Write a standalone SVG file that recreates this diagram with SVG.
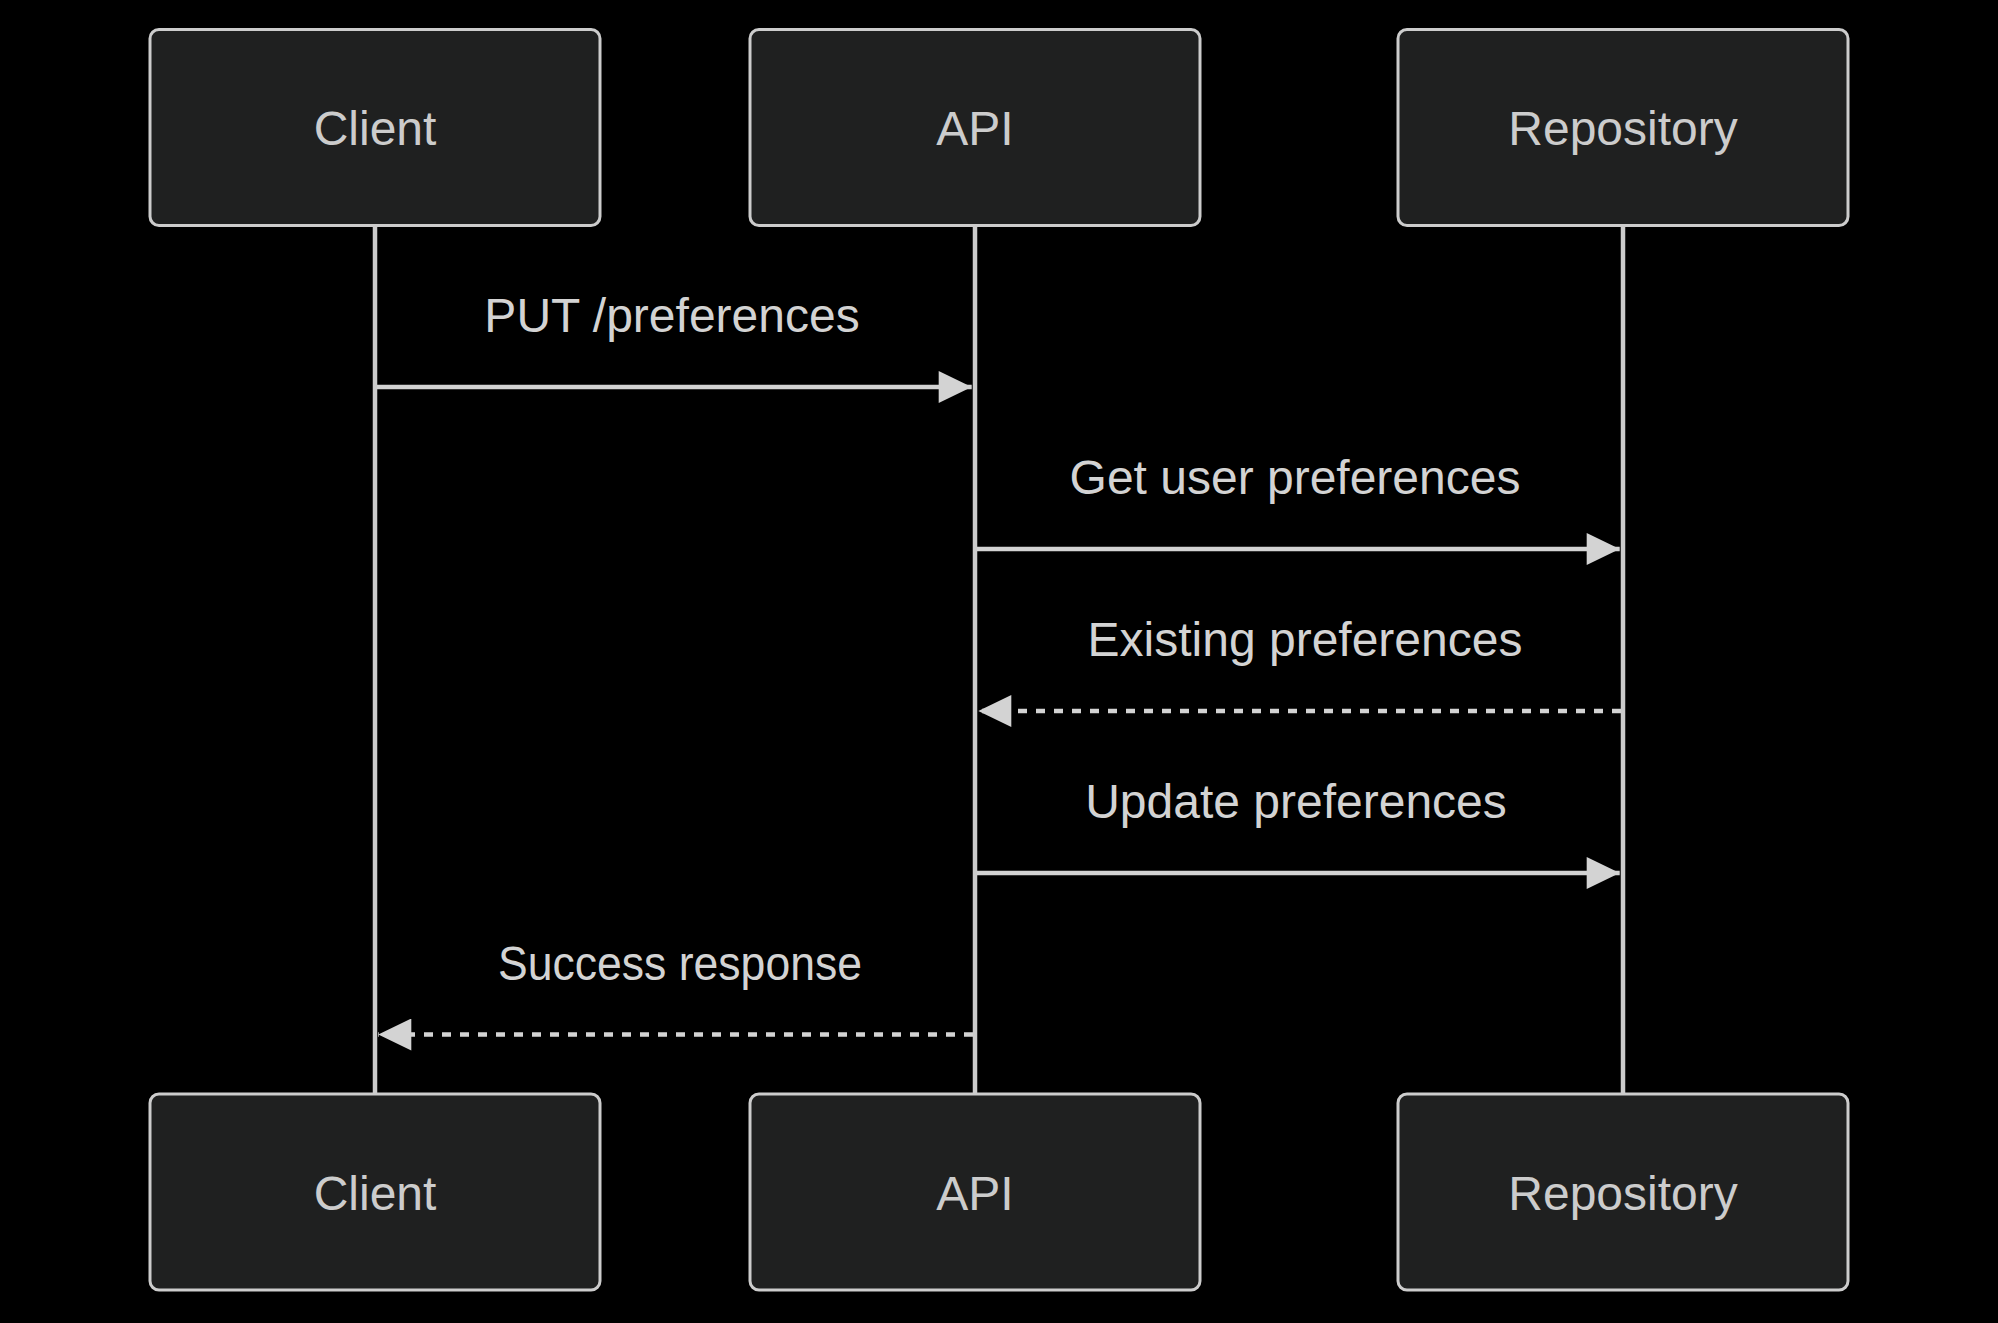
<svg xmlns="http://www.w3.org/2000/svg" width="1998" height="1323" viewBox="0 0 1998 1323">
<style>
.bg{fill:#000000}
.actor{fill:#1f2020;stroke:#cccccc;stroke-width:3}
.atext{font-family:"Liberation Sans",Arial,sans-serif;font-size:48px;fill:#cccccc;text-anchor:middle}
.life{stroke:#cccccc;stroke-width:4.5;fill:none}
.msg{stroke:#d3d3d3;stroke-width:4.5;fill:none}
.dash{stroke-dasharray:9 9}
.mtext{font-family:"Liberation Sans",Arial,sans-serif;font-size:48px;fill:#d3d3d3;text-anchor:middle}
</style>
<defs>
<marker id="arrow" markerUnits="userSpaceOnUse" markerWidth="34" markerHeight="32" viewBox="0 0 33 32" refX="33" refY="16" orient="auto">
<path d="M0 0 L33 16 L0 32 Z" fill="#d3d3d3"/>
</marker>
</defs>
<rect class="bg" x="0" y="0" width="1998" height="1323"/>
<g id="lifelines">
<line class="life" x1="375" y1="225" x2="375" y2="1094"/>
<line class="life" x1="975" y1="225" x2="975" y2="1094"/>
<line class="life" x1="1623" y1="225" x2="1623" y2="1094"/>
</g>
<g id="client-top">
<rect class="actor" x="150" y="29.5" width="450" height="196" rx="9"/>
<text class="atext" x="375" y="145">Client</text>
</g>
<g id="api-top">
<rect class="actor" x="750" y="29.5" width="450" height="196" rx="9"/>
<text class="atext" x="975" y="145">API</text>
</g>
<g id="repo-top">
<rect class="actor" x="1398" y="29.5" width="450" height="196" rx="9"/>
<text class="atext" x="1623" y="145">Repository</text>
</g>
<g id="client-bottom">
<rect class="actor" x="150" y="1094" width="450" height="196" rx="9"/>
<text class="atext" x="375" y="1210">Client</text>
</g>
<g id="api-bottom">
<rect class="actor" x="750" y="1094" width="450" height="196" rx="9"/>
<text class="atext" x="975" y="1210">API</text>
</g>
<g id="repo-bottom">
<rect class="actor" x="1398" y="1094" width="450" height="196" rx="9"/>
<text class="atext" x="1623" y="1210">Repository</text>
</g>
<g id="connectors">
<line class="msg" x1="377" y1="387" x2="971.7" y2="387" marker-end="url(#arrow)"/>
<line class="msg" x1="977" y1="549" x2="1619.7" y2="549" marker-end="url(#arrow)"/>
<line class="msg dash" x1="1621" y1="711" x2="978.3" y2="711" marker-end="url(#arrow)"/>
<line class="msg" x1="977" y1="873" x2="1619.7" y2="873" marker-end="url(#arrow)"/>
<line class="msg dash" x1="973" y1="1034.5" x2="378.3" y2="1034.5" marker-end="url(#arrow)"/>
</g>
<g id="labels">
<text class="mtext" x="672" y="332">PUT /preferences</text>
<text class="mtext" x="1295" y="494">Get user preferences</text>
<text class="mtext" x="1305" y="656">Existing preferences</text>
<text class="mtext" x="1296" y="818">Update preferences</text>
<text class="mtext" x="680" y="980" textLength="364" lengthAdjust="spacingAndGlyphs">Success response</text>
</g>
</svg>
